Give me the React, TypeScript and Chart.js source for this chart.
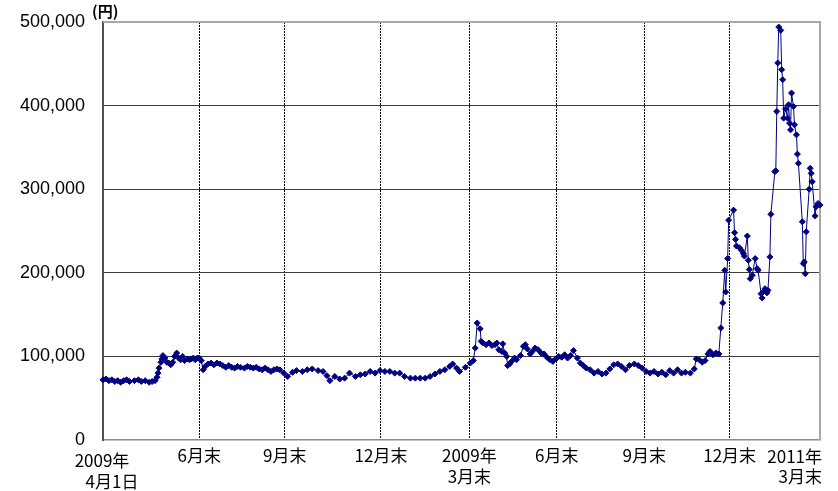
import React, { useEffect, useRef } from 'react';
import { Chart, registerables } from 'chart.js';

Chart.register(...registerables);

// Approximate day index since 2009-04-01 (axis position) and price in yen
const days = [
  0, 3, 6, 9, 12, 15, 18, 21, 24, 27, 32, 36, 39, 43, 47, 50, 53, 55, 56, 57, 59, 60, 61, 63, 65, 67, 69, 71, 73, 75,
  77, 79, 81, 83, 86, 88, 90, 92, 94, 96, 98, 100, 102, 104, 107, 110, 113, 116, 119, 122, 125, 128, 131, 134, 137, 140,
  144, 147, 150, 153, 156, 159, 162, 165, 168, 171, 174, 177, 180, 184, 188, 193, 197, 203, 208, 213, 219, 224, 228, 231,
  236, 241, 246, 251, 257, 262, 267, 272, 277, 282, 287, 292, 297, 302, 307, 313, 318, 323, 328, 333, 338, 343, 348, 353,
  356, 360, 363, 369, 374, 377, 379, 381, 384, 385, 387, 390, 393, 396, 399, 401, 403, 406, 407, 409, 411, 412, 414, 416,
  419, 421, 425, 428, 430, 432, 435, 437, 440, 443, 446, 449, 452, 455, 458, 461, 464, 467, 470, 473, 476, 479, 483, 486,
  489, 492, 496, 500, 504, 508, 512, 516, 520, 524, 528, 532, 536, 541, 545, 549, 553, 557, 561, 565, 569, 573, 577, 581,
  585, 589, 593, 598, 602, 604, 607, 610, 613, 616, 618, 621, 624, 627, 629, 631, 633, 634, 636, 637, 642, 643, 644, 645,
  648, 650, 652, 653, 656, 657, 658, 659, 661, 664, 666, 667, 670, 671, 672, 674, 676, 677, 679, 680, 684, 685, 686, 687,
  688, 690, 691, 692, 693, 695, 697, 698, 699, 700, 701, 703, 704, 706, 707, 708, 712, 713, 714, 715, 716, 719, 720, 721,
  722, 725, 726, 728, 730,
];

const prices = [
  72000, 73000, 71000, 72000, 70000, 71000, 69000, 71000, 72000, 70000, 71000, 72000, 70000, 71000, 69000, 70000, 71000,
  75000, 80000, 86000, 93000, 97000, 101000, 98000, 93000, 92000, 90000, 93000, 100000, 104000, 98000, 96000, 100000,
  95000, 97000, 96000, 97000, 98000, 96000, 98000, 98000, 95000, 84000, 88000, 91000, 92000, 90000, 92000, 91000, 89000,
  87000, 89000, 87000, 86000, 88000, 87000, 86000, 88000, 87000, 86000, 87000, 85000, 84000, 86000, 84000, 82000, 84000,
  85000, 84000, 80000, 76000, 81000, 83000, 82000, 84000, 85000, 83000, 82000, 77000, 71000, 76000, 73000, 74000, 80000,
  76000, 78000, 79000, 82000, 80000, 83000, 82000, 82000, 80000, 80000, 76000, 74000, 74000, 74000, 74000, 76000, 79000,
  82000, 84000, 88000, 91000, 86000, 82000, 87000, 92000, 95000, 110000, 140000, 133000, 118000, 116000, 114000, 116000,
  113000, 114000, 116000, 108000, 106000, 115000, 104000, 100000, 89000, 91000, 94000, 98000, 96000, 101000, 112000,
  114000, 109000, 103000, 106000, 110000, 108000, 104000, 103000, 99000, 96000, 94000, 97000, 100000, 99000, 102000,
  98000, 101000, 107000, 98000, 92000, 89000, 86000, 84000, 80000, 82000, 79000, 80000, 85000, 90000, 91000, 88000,
  84000, 89000, 91000, 89000, 86000, 82000, 80000, 82000, 79000, 81000, 78000, 83000, 80000, 84000, 80000, 81000, 80000,
  85000, 97000, 96000, 93000, 95000, 103000, 106000, 102000, 104000, 103000, 134000, 164000, 203000, 177000, 217000,
  263000, 275000, 248000, 240000, 232000, 230000, 227000, 223000, 220000, 244000, 215000, 204000, 193000, 197000, 217000,
  205000, 203000, 175000, 170000, 177000, 181000, 176000, 179000, 219000, 270000, 321000, 322000, 393000, 451000, 494000,
  490000, 443000, 431000, 385000, 396000, 385000, 401000, 379000, 371000, 415000, 399000, 377000, 365000, 342000, 331000,
  261000, 211000, 213000, 199000, 249000, 300000, 325000, 319000, 309000, 268000, 279000, 283000, 281000,
];

const tickDays = [0, 98, 185, 283, 373, 462, 551, 638, 730];
const tickLabels: (string | string[])[] = [
  ['2009年', '4月1日'],
  '6月末',
  '9月末',
  '12月末',
  ['2009年', '3月末'],
  '6月末',
  '9月末',
  '12月末',
  ['2011年', '3月末'],
];
const yMin = 0;
const yMax = 500000;
const yStep = 100000;
const unitLabel = '(円)';

const CJK = '"Noto Sans CJK JP", sans-serif';

const overlayPlugin = {
  id: 'overlay',
  beforeDatasetsDraw(chart: any) {
    const { ctx, chartArea: a } = chart;
    ctx.save();
    ctx.strokeStyle = '#a8a8a8';
    ctx.lineWidth = 2;
    ctx.beginPath();
    ctx.moveTo(a.left, a.top);
    ctx.lineTo(a.right, a.top);
    ctx.lineTo(a.right, a.bottom);
    ctx.stroke();
    ctx.restore();
  },
  afterDraw(chart: any) {
    const { ctx, chartArea: a, scales } = chart;
    const xs = scales.x;
    ctx.save();
    ctx.fillStyle = '#000';
    ctx.textBaseline = 'alphabetic';
    // unit
    ctx.font = `bold 15px ${CJK}`;
    ctx.textAlign = 'left';
    ctx.fillText(unitLabel, a.left - 11, a.top - 5);
    // first and last category labels
    ctx.font = `17px ${CJK}`;
    const first = tickLabels[0] as string[];
    const x0 = xs.getPixelForValue(tickDays[0]);
    ctx.textAlign = 'center';
    ctx.fillText(first[0], x0 - 1, a.bottom + 27);
    ctx.fillText(first[1], x0 + 9, a.bottom + 48);
    const last = tickLabels[tickLabels.length - 1] as string[];
    const xl = xs.getPixelForValue(tickDays[tickDays.length - 1]);
    ctx.textAlign = 'right';
    ctx.fillText(last[0], xl + 2, a.bottom + 23);
    ctx.fillText(last[1], xl + 2, a.bottom + 43);
    ctx.restore();
  },
};

export default function App() {
  const ref = useRef<HTMLCanvasElement | null>(null);

  useEffect(() => {
    document.body.style.margin = '0';
    const canvas = ref.current;
    if (!canvas) return;
    const chart = new Chart(canvas, {
      type: 'line',
      data: {
        datasets: [
          {
            data: days.map((d, i) => ({ x: d, y: prices[i] })),
            borderColor: '#000080',
            backgroundColor: '#000080',
            borderWidth: 1,
            pointStyle: 'rectRot',
            pointRadius: 3,
            pointBorderWidth: 1,
            pointBackgroundColor: '#000080',
            pointBorderColor: '#000080',
            tension: 0,
            clip: false as any,
          },
        ],
      },
      options: {
        responsive: false,
        animation: false,
        layout: { autoPadding: false, padding: { left: 0, right: 18, top: 22, bottom: 0 } },
        plugins: {
          legend: { display: false },
          tooltip: { enabled: false },
        },
        scales: {
          x: {
            type: 'linear',
            min: tickDays[0],
            max: tickDays[tickDays.length - 1],
            afterBuildTicks: (scale: any) => {
              scale.ticks = tickDays.map((v) => ({ value: v }));
            },
            afterFit: (scale: any) => {
              scale.height = 51;
              scale.paddingLeft = 0;
              scale.paddingRight = 0;
            },
            grid: {
              drawTicks: false,
              lineWidth: 1,
              color: (c: any) =>
                c.index === 0 || c.index === tickDays.length - 1 ? 'rgba(0,0,0,0)' : '#000000',
            },
            border: { display: true, color: '#8c8c8c', width: 1.5, dash: [2, 1] },
            ticks: {
              autoSkip: false,
              maxRotation: 0,
              padding: 6,
              color: '#000',
              font: { family: CJK, size: 17, lineHeight: 1.18 },
              callback: (_v: any, index: number) =>
                index === 0 || index === tickDays.length - 1 ? '' : (tickLabels[index] as any),
            },
          },
          y: {
            type: 'linear',
            min: yMin,
            max: yMax,
            afterFit: (scale: any) => {
              scale.width = 103;
              scale.paddingTop = 0;
              scale.paddingBottom = 0;
            },
            grid: {
              drawTicks: false,
              lineWidth: 1,
              color: (c: any) =>
                c.tick.value === yMin ? 'rgba(0,0,0,0)' : c.tick.value === yMax ? '#a8a8a8' : '#3c3c3c',
            },
            border: { display: true, color: '#505050', width: 2 },
            ticks: {
              stepSize: yStep,
              padding: 18,
              color: '#000',
              font: { family: '"Liberation Sans", Arial, sans-serif', size: 18 },
              callback: (v: any) => Number(v).toLocaleString('en-US'),
            },
          },
        },
      },
      plugins: [overlayPlugin],
    });
    return () => chart.destroy();
  }, []);

  return (
    <div style={{ width: 838, height: 491 }}>
      <canvas ref={ref} width={838} height={491} style={{ display: 'block' }} />
    </div>
  );
}
